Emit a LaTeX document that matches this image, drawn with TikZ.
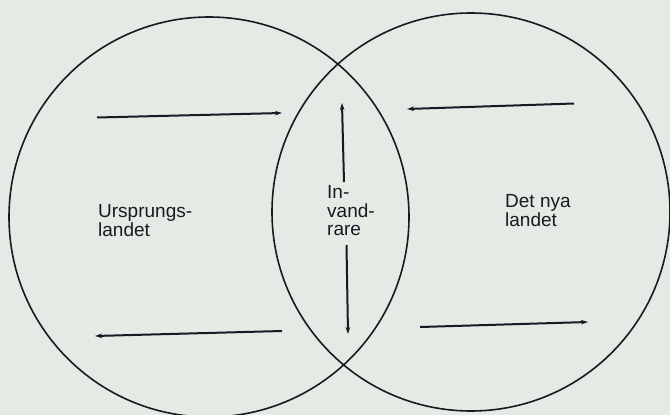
\documentclass[tikz,border=0pt]{standalone}
\usepackage{fontspec}
\newfontfamily\labelfont{Liberation Sans}
\usetikzlibrary{arrows.meta}
\definecolor{paper}{RGB}{230,234,229}
\definecolor{ink}{RGB}{25,25,35}
\tikzset{
  ring/.style={draw=ink, line width=1.6pt},
  tip/.tip={Stealth[length=7pt,width=4.5pt]},
  flow/.style={draw=ink, line width=2pt, -tip},
  lbl/.style={anchor=north west, inner sep=0pt, align=left, text=ink,
              font=\labelfont\fontsize{19}{18.5}\selectfont},
}
\begin{document}
\begin{tikzpicture}[x=1pt,y=-1pt]
  \fill[paper] (0,0) rectangle (670,415);
  \useasboundingbox (0,0) rectangle (670,415);
  \clip (0,0) rectangle (670,415);
  % circles
  \coordinate (lc) at (209,217);
  \coordinate (rc) at (471,212);
  \draw[ring] (lc) circle[radius=200];
  \draw[ring] (rc) circle[radius=199];
  % labels
  \node[lbl] (orig) at (98,204.5) {Ursprungs-\\landet};
  \node[lbl] (inv) at (327,185.5) {In-\\vand-\\rare};
  \node[lbl] (nya) at (505,194.5) {Det nya\\landet};
  % arrow end points
  \coordinate (a1s) at (97,117.5);
  \coordinate (a1e) at (282,113);
  \coordinate (a2s) at (282,331);
  \coordinate (a2e) at (95,336);
  \coordinate (a3s) at (574,103.5);
  \coordinate (a3e) at (407,109);
  \coordinate (a4s) at (420,327);
  \coordinate (a4e) at (588,322);
  \coordinate (vt) at (342,103);
  \coordinate (vte) at (344,182);
  \coordinate (vbs) at (346.5,245);
  \coordinate (vb) at (348,334);
  % arrows
  \draw[flow] (a1s) -- (a1e);
  \draw[flow] (a2s) -- (a2e);
  \draw[flow] (a3s) -- (a3e);
  \draw[flow] (a4s) -- (a4e);
  \draw[flow] (vte) -- (vt);
  \draw[flow] (vbs) -- (vb);
\end{tikzpicture}
\end{document}
